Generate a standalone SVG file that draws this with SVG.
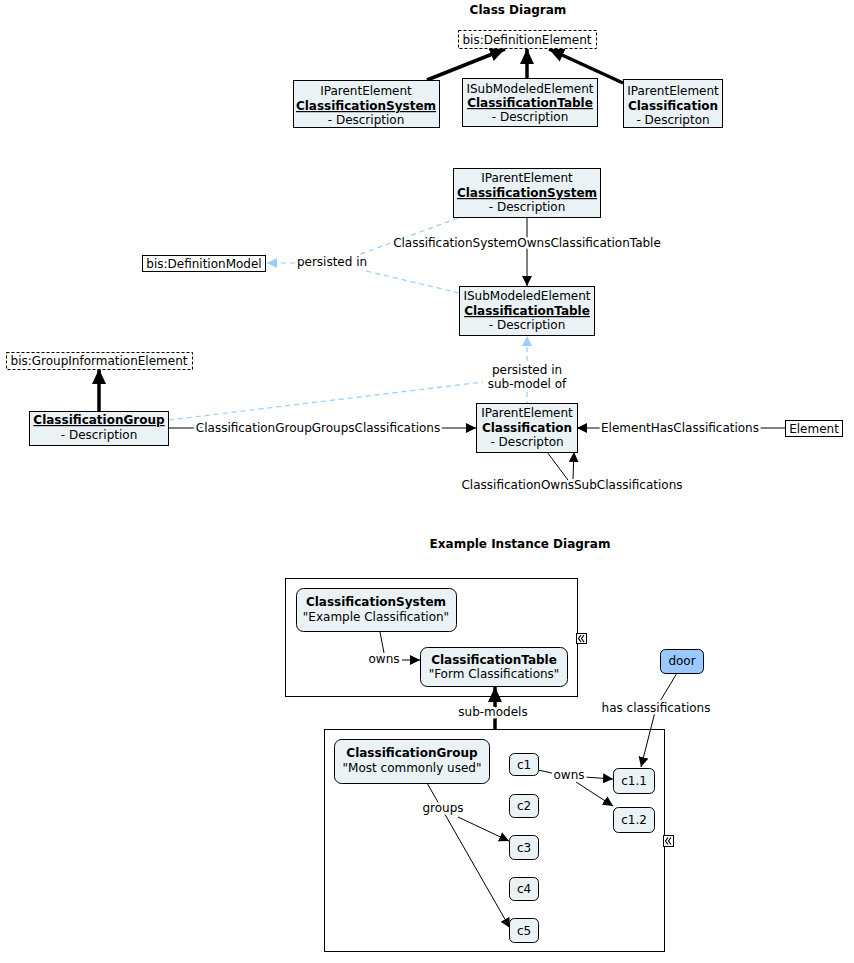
<svg xmlns="http://www.w3.org/2000/svg" width="854" height="963" viewBox="0 0 854 963">
<style>
text{font-family:"DejaVu Sans","Liberation Sans",sans-serif;font-size:12px;fill:#000;text-anchor:middle}
.b{font-weight:bold}
.u{text-decoration:underline}
.title{font-weight:bold;font-size:12px}
.node{fill:#eaf2f5;stroke:#000;stroke-width:1}
.dash{fill:#fff;stroke:#000;stroke-width:1;stroke-dasharray:3,2}
.plain{fill:#fff;stroke:#000;stroke-width:1}
.cont{fill:#fff;stroke:#000;stroke-width:1}
.door{fill:#99c9ff;stroke:#000;stroke-width:1}
.ln{fill:none;stroke:#000;stroke-width:1}
.thick{fill:none;stroke:#000;stroke-width:3.5}
.blue{fill:none;stroke:#99ccff;stroke-width:1.2;stroke-dasharray:5,4}
.lbl{paint-order:stroke;stroke:#fff;stroke-width:5px;stroke-linejoin:round}
</style>
<defs>
<marker id="ah" markerUnits="userSpaceOnUse" markerWidth="11" markerHeight="11" refX="10" refY="5" orient="auto"><path d="M0,0 L10,5 L0,10 z" fill="#000"/></marker>
<marker id="ahb" markerUnits="userSpaceOnUse" markerWidth="11" markerHeight="11" refX="10" refY="5" orient="auto"><path d="M0,0 L10,5 L0,10 z" fill="#99ccff"/></marker>
<marker id="aht" markerUnits="userSpaceOnUse" markerWidth="16" markerHeight="16" refX="15" refY="7" orient="auto"><path d="M0,0 L15,7 L0,14 z" fill="#000"/></marker>
</defs>

<text class="title" x="518" y="14">Class Diagram</text>
<text class="title" x="520" y="548">Example Instance Diagram</text>

<!-- containers -->
<g id="container-definition-model"><rect class="cont" x="285.5" y="578.5" width="292" height="118"/>
<g transform="translate(576,633)"><rect x="0.5" y="0.5" width="10" height="10" fill="#fff" stroke="#000"/><path d="M5,2 L2.5,5.5 L5,9 M8,2 L5.5,5.5 L8,9" fill="none" stroke="#000" stroke-width="1.2"/></g></g>
<g id="container-sub-model"><rect class="cont" x="324.5" y="729.5" width="340" height="222"/>
<g transform="translate(663,835)"><rect x="0.5" y="0.5" width="10" height="11" fill="#fff" stroke="#000"/><path d="M5,2.5 L2.5,6 L5,9.5 M8,2.5 L5.5,6 L8,9.5" fill="none" stroke="#000" stroke-width="1.2"/></g></g>

<g id="connectors">
<!-- top -->
<line class="thick" x1="427" y1="80" x2="505" y2="49" marker-end="url(#aht)"/>
<line class="thick" x1="527" y1="78" x2="527" y2="49" marker-end="url(#aht)"/>
<line class="thick" x1="623" y1="83" x2="549" y2="49" marker-end="url(#aht)"/>
<!-- middle -->
<line class="ln" x1="527" y1="218" x2="527" y2="286" marker-end="url(#ah)"/>
<line class="blue" x1="458" y1="218" x2="358" y2="255"/>
<line class="blue" x1="459" y1="293" x2="362" y2="270"/>
<line class="blue" x1="295" y1="263" x2="267" y2="263" marker-end="url(#ahb)"/>
<line class="thick" x1="99" y1="411" x2="99" y2="369" marker-end="url(#aht)"/>
<line class="ln" x1="169" y1="428" x2="476" y2="428" marker-end="url(#ah)"/>
<line class="blue" x1="169" y1="420" x2="483" y2="382"/>
<line class="blue" x1="527" y1="361" x2="527" y2="336" marker-end="url(#ahb)"/>
<line class="blue" x1="527" y1="392" x2="527" y2="403"/>
<line class="ln" x1="785" y1="428" x2="577" y2="428" marker-end="url(#ah)"/>
<polyline class="ln" points="547,452 568,480"/>
<line class="ln" x1="573" y1="479" x2="574" y2="452" marker-end="url(#ah)"/>
<!-- bottom -->
<polyline class="ln" points="380,632 384,653"/>
<line class="ln" x1="402" y1="660" x2="420" y2="660" marker-end="url(#ah)"/>
<line class="thick" x1="495" y1="729" x2="495" y2="687" marker-end="url(#aht)"/>
<polyline class="ln" points="677,673 656,708 641,767" marker-end="url(#ah)"/>
<polyline class="ln" points="538,770 556,774"/>
<line class="ln" x1="584" y1="777" x2="613" y2="779" marker-end="url(#ah)"/>
<line class="ln" x1="576" y1="782" x2="613" y2="806" marker-end="url(#ah)"/>
<line class="ln" x1="427" y1="783" x2="510" y2="928" marker-end="url(#ah)"/>
<line class="ln" x1="458" y1="817" x2="509" y2="841" marker-end="url(#ah)"/>
</g>

<g id="labels">
<text class="lbl" x="527" y="247">ClassificationSystemOwnsClassificationTable</text>
<text x="332" y="266">persisted in</text>
<text class="lbl" x="318" y="432">ClassificationGroupGroupsClassifications</text>
<text x="527" y="374">persisted in</text>
<text x="527" y="388">sub-model of</text>
<text class="lbl" x="680" y="432">ElementHasClassifications</text>
<text class="lbl" x="572" y="489">ClassificationOwnsSubClassifications</text>
<text class="lbl" x="384" y="663">owns</text>
<text class="lbl" x="493" y="716">sub-models</text>
<text class="lbl" x="656" y="712">has classifications</text>
<text class="lbl" x="569" y="779">owns</text>
<text class="lbl" x="443" y="812">groups</text>
</g>

<!-- top class diagram nodes -->
<g id="t-defelement"><rect class="dash" x="458.5" y="30.5" width="138" height="18"/><text x="527" y="44">bis:DefinitionElement</text></g>
<g id="t-classsystem"><rect class="node" x="293.5" y="80.5" width="146" height="47"/><text x="366" y="95">IParentElement</text><text class="b u" x="366" y="110">ClassificationSystem</text><text x="366" y="124">- Description</text></g>
<g id="t-classtable"><rect class="node" x="462.5" y="78.5" width="135" height="48"/><text x="530" y="93">ISubModeledElement</text><text class="b u" x="530" y="107">ClassificationTable</text><text x="530" y="121">- Description</text></g>
<g id="t-classification"><rect class="node" x="623.5" y="79.5" width="99" height="48"/><text x="673" y="95">IParentElement</text><text class="b" x="673" y="110">Classification</text><text x="673" y="124">- Descripton</text></g>

<!-- middle nodes -->
<g id="m-classsystem"><rect class="node" x="453.5" y="168.5" width="147" height="49"/><text x="527" y="182">IParentElement</text><text class="b u" x="527" y="197">ClassificationSystem</text><text x="527" y="211">- Description</text></g>
<g id="m-classtable"><rect class="node" x="459.5" y="286.5" width="135" height="49"/><text x="527" y="300">ISubModeledElement</text><text class="b u" x="527" y="315">ClassificationTable</text><text x="527" y="329">- Description</text></g>
<g id="m-defmodel"><rect class="plain" x="142.5" y="255.5" width="123" height="16"/><text x="204" y="268">bis:DefinitionModel</text></g>
<g id="m-groupinfo"><rect class="dash" x="6.5" y="352.5" width="186" height="17"/><text x="99" y="365">bis:GroupInformationElement</text></g>
<g id="m-classgroup"><rect class="node" x="29.5" y="411.5" width="139" height="34"/><text class="b u" x="99" y="424">ClassificationGroup</text><text x="99" y="439">- Description</text></g>
<g id="m-classification"><rect class="node" x="476.5" y="403.5" width="101" height="49"/><text x="527" y="417">IParentElement</text><text class="b" x="527" y="432">Classification</text><text x="527" y="446">- Descripton</text></g>
<g id="m-element"><rect class="plain" x="785.5" y="420.5" width="57" height="16"/><text x="814" y="433">Element</text></g>

<!-- instance nodes -->
<g id="i-classsystem"><rect class="node" x="296.5" y="588.5" width="160" height="43" rx="7"/><text class="b" x="376" y="606">ClassificationSystem</text><text x="376" y="621">"Example Classification"</text></g>
<g id="i-classtable"><rect class="node" x="420.5" y="647.5" width="147" height="39" rx="7"/><text class="b" x="494" y="664">ClassificationTable</text><text x="494" y="678">"Form Classifications"</text></g>
<g id="i-door"><rect class="door" x="660.5" y="649.5" width="43" height="24" rx="5"/><text x="682" y="665">door</text></g>
<g id="i-classgroup"><rect class="node" x="334.5" y="739.5" width="155" height="44" rx="7"/><text class="b" x="412" y="757">ClassificationGroup</text><text x="412" y="772">"Most commonly used"</text></g>
<g id="i-c1"><rect class="node" x="509.5" y="753.5" width="29" height="22" rx="5"/><text x="524" y="769">c1</text></g>
<g id="i-c2"><rect class="node" x="509.5" y="794.5" width="29" height="23" rx="5"/><text x="524" y="810">c2</text></g>
<g id="i-c3"><rect class="node" x="509.5" y="835.5" width="29" height="24" rx="5"/><text x="524" y="852">c3</text></g>
<g id="i-c4"><rect class="node" x="509.5" y="877.5" width="29" height="23" rx="5"/><text x="524" y="893">c4</text></g>
<g id="i-c5"><rect class="node" x="509.5" y="918.5" width="29" height="24" rx="5"/><text x="524" y="935">c5</text></g>
<g id="i-c1-1"><rect class="node" x="613.5" y="768.5" width="41" height="25" rx="5"/><text x="634" y="785">c1.1</text></g>
<g id="i-c1-2"><rect class="node" x="613.5" y="807.5" width="41" height="25" rx="5"/><text x="634" y="824">c1.2</text></g>
</svg>
